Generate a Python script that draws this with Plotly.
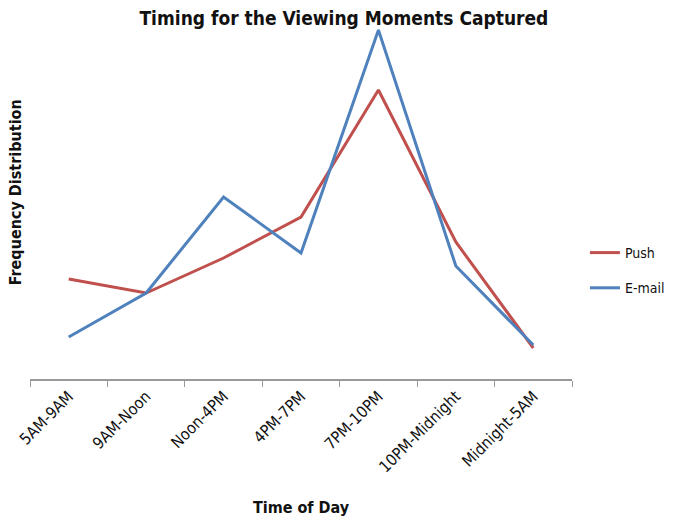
import plotly.graph_objects as go

# Viewing moments by time of day
time_slots = ["5AM-9AM", "9AM-Noon", "Noon-4PM", "4PM-7PM",
              "7PM-10PM", "10PM-Midnight", "Midnight-5AM"]
push_values = [100, 86, 121, 162, 289, 137, 31]
email_values = [42, 86, 182, 126, 349, 113, 34]

FONT = "DejaVu Sans Condensed, DejaVu Sans, sans-serif"

fig = go.Figure()
fig.add_trace(go.Scatter(
    x=time_slots, y=push_values, name="Push", mode="lines",
    line=dict(color="#C0504D", width=3), legendgroup="push",
))
fig.add_trace(go.Scatter(
    x=time_slots, y=email_values, name="E-mail", mode="lines",
    line=dict(color="#4F81BD", width=3), legendgroup="email",
))

fig.update_layout(
    width=681, height=519,
    margin=dict(l=30, r=108, t=29, b=140),
    paper_bgcolor="white", plot_bgcolor="white",
    font=dict(family=FONT, size=13, color="#111"),
    title=dict(text="<b>Timing for the Viewing Moments Captured</b>",
               x=0.505, xanchor="center", y=0.965, yanchor="middle",
               font=dict(size=19, family=FONT, color="#111")),
    legend=dict(x=1.022, xanchor="left", y=0.31, yanchor="middle",
                font=dict(size=14, family=FONT), tracegroupgap=14,
                itemwidth=30, borderwidth=0),
    xaxis=dict(
        type="category", range=[-0.5, 6.5],
        showline=True, linecolor="#999", linewidth=1.5,
        ticks="outside", tickson="boundaries", ticklen=6, tickcolor="#999",
        tickangle=-45, tickfont=dict(size=16, family=FONT),
        showgrid=False, zeroline=False,
        title=dict(text="<b>Time of Day</b>", font=dict(size=16, family=FONT),
                   standoff=27),
        automargin=False,
    ),
    yaxis=dict(
        range=[0, 350], showline=False, showgrid=False, zeroline=False,
        showticklabels=False, ticks="",
        automargin=False,
    ),
    annotations=[dict(
        text="<b>Frequency Distribution</b>", textangle=-90,
        xref="paper", yref="paper", x=-0.006, y=0.534,
        xanchor="right", yanchor="middle", showarrow=False,
        font=dict(size=16, family=FONT, color="#111"),
    )],
)

fig.write_html("out.html")
